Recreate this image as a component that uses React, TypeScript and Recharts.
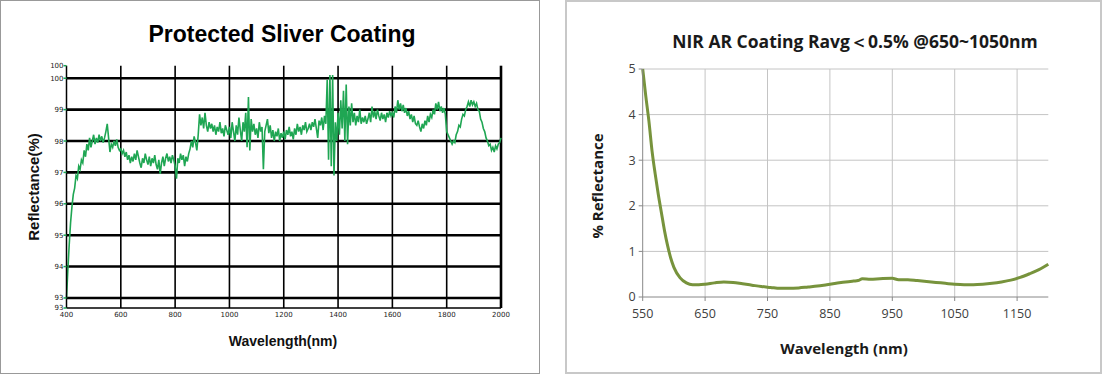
import { LineChart, Line, XAxis, YAxis, CartesianGrid } from 'recharts';

// Left chart: protected silver coating, one reading every 5 nm from 400 nm
const SILVER_START_NM = 400;
const SILVER_STEP_NM = 5;
const SILVER_REFLECTANCE = [
  93.0, 93.9, 94.7, 95.4, 95.9, 96.3, 96.5, 96.9, 96.8, 97.2, 97.1, 97.4, 97.3, 97.7, 97.5, 97.9, 97.7, 98.1, 97.8, 98.0,
  98.2, 97.9, 98.1, 97.95, 98.2, 98.0, 98.15, 97.95, 98.1, 98.3, 98.55, 98.1, 97.65, 97.9, 97.8, 98.0, 97.85, 98.05, 97.8, 97.7,
  97.75, 97.6, 97.7, 97.5, 97.65, 97.4, 97.55, 97.3, 97.5, 97.35, 97.6, 97.4, 97.7, 97.5, 97.3, 97.15, 97.45, 97.3, 97.6, 97.4,
  97.25, 97.5, 97.2, 97.45, 97.3, 97.55, 97.25, 97.1, 97.4, 96.95, 97.3, 97.5, 97.2, 97.45, 97.6, 97.35, 97.5, 97.3, 97.55, 97.4,
  97.2, 96.8, 97.45, 97.3, 97.6, 97.4, 97.55, 97.2, 97.5, 97.35, 97.6, 97.75, 98.0, 97.8, 98.15, 97.95, 97.7, 98.2, 98.85, 98.5,
  98.75, 98.4, 98.9, 98.5, 98.3, 98.6, 98.4, 98.55, 98.3, 98.5, 98.2, 98.45, 98.3, 98.6, 98.25, 98.4, 98.15, 98.5, 98.35, 98.2,
  98.45, 98.1, 98.6, 98.3, 98.0, 98.5, 98.2, 98.75, 98.35, 98.0, 98.6, 98.3, 98.9, 97.8, 99.4, 97.7, 98.7, 98.3, 98.55, 98.2,
  98.4, 98.1, 98.6, 98.3, 98.45, 97.1, 98.3, 98.5, 98.7, 98.25, 98.5, 98.1, 98.35, 98.0, 98.3, 98.15, 98.4, 98.0, 98.25, 98.1,
  98.3, 98.05, 98.35, 98.2, 98.45, 98.15, 98.3, 98.05, 98.4, 98.2, 98.55, 98.3, 98.45, 98.2, 98.5, 98.35, 98.6, 98.3, 98.4, 98.55,
  98.35, 98.6, 98.45, 98.7, 98.4, 98.1, 98.65, 98.5, 98.75, 98.35, 98.8, 98.55, 99.95, 97.4, 100.1, 97.2, 100.1, 96.9, 98.6, 98.0,
  98.9, 98.2, 99.3, 98.4, 99.6, 98.0, 99.8, 97.9, 99.1, 98.5, 99.2, 98.6, 98.9, 98.5, 98.8, 98.6, 99.0, 98.55, 98.75, 98.6,
  98.8, 98.55, 98.7, 98.9, 98.6, 99.1, 98.75, 98.95, 98.7, 99.0, 98.8, 98.65, 98.9, 98.7, 98.85, 98.6, 98.9, 98.75, 98.95, 98.8,
  98.9, 98.75, 99.1, 98.9, 99.3, 99.0, 99.2, 98.95, 99.15, 98.9, 99.05, 98.8, 98.95, 98.7, 98.85, 98.6, 98.8, 98.55, 98.5, 98.65,
  98.45, 98.3, 98.55, 98.4, 98.65, 98.5, 98.8, 98.6, 98.85, 98.75, 99.0, 98.85, 99.2, 99.0, 99.25, 98.95, 99.1, 98.9, 99.05, 98.85,
  98.3, 98.2, 98.1, 98.0, 97.9, 98.0, 97.95, 98.2, 98.3, 98.5, 98.45, 98.7, 98.85, 98.8, 99.0, 99.1, 99.25, 99.1, 99.3, 99.15,
  99.25, 99.1, 99.2, 99.0, 98.95, 98.7, 98.6, 98.4, 98.3, 98.1, 98.0, 97.85, 97.9, 97.7, 97.8, 97.65, 97.85, 97.75, 97.9, 97.95,
  98.1,
];
const SILVER_X_TICKS = [400, 600, 800, 1000, 1200, 1400, 1600, 1800, 2000];
const SILVER_Y_TICKS = [92.68, 93, 94, 95, 96, 97, 98, 99, 100, 100.4];
const SILVER_H_GRID = [93, 94, 95, 96, 97, 98, 99, 100];
const SILVER_V_GRID = [600, 800, 1000, 1200, 1400, 1600, 1800];

// Right chart: NIR AR coating
const AR_WAVELENGTH = [
  550, 555, 560, 565, 570, 575, 580, 585, 590, 595, 600, 610, 620, 630, 640, 650, 665, 680, 695, 710,
  725, 740, 755, 770, 785, 800, 815, 830, 845, 860, 875, 888, 895, 902, 915, 930, 950, 960, 975, 990,
  1005, 1020, 1035, 1050, 1065, 1080, 1095, 1110, 1125, 1140, 1155, 1170, 1185, 1200,
];
const AR_REFLECTANCE = [
  5.0, 4.4, 3.85, 3.2, 2.7, 2.25, 1.85, 1.45, 1.12, 0.85, 0.65, 0.42, 0.31, 0.27, 0.27, 0.28, 0.31, 0.33, 0.32, 0.29,
  0.26, 0.23, 0.21, 0.19, 0.19, 0.2, 0.22, 0.24, 0.27, 0.3, 0.33, 0.35, 0.36, 0.4, 0.39, 0.4, 0.41, 0.38, 0.38, 0.36,
  0.34, 0.32, 0.3, 0.28, 0.27, 0.27, 0.28, 0.3, 0.33, 0.37, 0.43, 0.51, 0.6, 0.72,
];
const AR_X_TICKS = [550, 650, 750, 850, 950, 1050, 1150];
const AR_Y_TICKS = [0, 1, 2, 3, 4, 5];
const AR_H_GRID = [1, 2, 3, 4, 5];
const AR_V_GRID = [650, 750, 850, 950, 1050, 1150];

const silverData = SILVER_REFLECTANCE.map((r, i) => ({ nm: SILVER_START_NM + i * SILVER_STEP_NM, r }));
const arData = AR_WAVELENGTH.map((nm, i) => ({ nm, r: AR_REFLECTANCE[i] }));

const abs = (left: number, top: number, extra: any = {}) => ({
  position: 'absolute' as const,
  left,
  top,
  whiteSpace: 'nowrap' as const,
  ...extra,
});

export default function App() {
  return (
    <div style={{ position: 'absolute', left: 0, top: 0, width: 1103, height: 375, background: '#fff', overflow: 'hidden' }}>
      {/* left panel */}
      <div style={abs(0, 0, { width: 540, height: 374, border: '1.5px solid #999', boxSizing: 'border-box' })} />
      <div style={abs(0, 0)}>
        <LineChart width={540} height={375} data={silverData} margin={{ top: 65.7, right: 39, bottom: 47, left: 36.5 }}>
          <CartesianGrid horizontal={false} verticalValues={SILVER_V_GRID} stroke="#000" strokeWidth={1.6} />
          <CartesianGrid horizontal={false} verticalValues={[2000]} stroke="#000" strokeWidth={2.6} />
          <CartesianGrid vertical={false} horizontalValues={SILVER_H_GRID} stroke="#000" strokeWidth={2.6} />
          <XAxis
            dataKey="nm"
            type="number"
            domain={[400, 2000]}
            ticks={SILVER_X_TICKS}
            interval={0}
            height={20}
            tickLine={false}
            tickMargin={-2}
            axisLine={{ stroke: '#000', strokeWidth: 1.5 }}
            tick={{ fontSize: 7, fill: '#222', fontFamily: 'DejaVu Sans' }}
          />
          <YAxis
            type="number"
            domain={[92.68, 100.4]}
            ticks={SILVER_Y_TICKS}
            interval={0}
            width={30}
            tickSize={3}
            tickMargin={0}
            tickLine={{ stroke: '#1fa653', strokeWidth: 1.5 }}
            tickFormatter={(v: number) => String(Math.round(v))}
            axisLine={{ stroke: '#000', strokeWidth: 1.5 }}
            tick={{ fontSize: 7, fill: '#222', fontFamily: 'DejaVu Sans' }}
          />
          <Line dataKey="r" type="linear" stroke="#1fa653" strokeWidth={1.6} dot={false} isAnimationActive={false} />
        </LineChart>
      </div>
      <div style={abs(282, 34, { transform: 'translate(-50%,-50%)', font: 'bold 23px "Liberation Sans"', color: '#000' })}>
        Protected Sliver Coating
      </div>
      <div style={abs(33, 187, { transform: 'translate(-50%,-50%) rotate(-90deg)', font: 'bold 15px "Liberation Sans"', color: '#111' })}>
        Reflectance(%)
      </div>
      <div style={abs(283, 341, { transform: 'translate(-50%,-50%)', font: 'bold 14px "Liberation Sans"', color: '#111' })}>
        Wavelength(nm)
      </div>

      {/* right panel */}
      <div style={abs(565, 0, { width: 537, height: 374, border: '2px solid #c8c8c8', boxSizing: 'border-box' })} />
      <div style={abs(560, 0)}>
        <LineChart width={543} height={375} data={arData} margin={{ top: 69, right: 54.7, bottom: 48, left: 52.7 }}>
          <CartesianGrid horizontalValues={AR_H_GRID} verticalValues={AR_V_GRID} stroke="#c4c4c4" strokeWidth={1} />
          <XAxis
            dataKey="nm"
            type="number"
            domain={[550, 1200]}
            ticks={AR_X_TICKS}
            interval={0}
            height={30}
            tickSize={4}
            tickMargin={8}
            tickLine={{ stroke: '#888' }}
            axisLine={{ stroke: '#888' }}
            tick={{ fontSize: 12.5, fill: '#404040', fontFamily: 'Open Sans' }}
          />
          <YAxis
            type="number"
            domain={[0, 5]}
            ticks={AR_Y_TICKS}
            interval={0}
            width={30}
            tickSize={4}
            tickMargin={3}
            tickLine={{ stroke: '#888' }}
            axisLine={{ stroke: '#888' }}
            tick={{ fontSize: 12.5, fill: '#404040', fontFamily: 'Open Sans' }}
          />
          <Line dataKey="r" type="monotone" stroke="#77933c" strokeWidth={3} dot={false} isAnimationActive={false} />
        </LineChart>
      </div>
      <div style={abs(855, 41, { transform: 'translate(-50%,-50%)', font: 'bold 17.5px "Open Sans"', color: '#1a1a1a' })}>
        NIR AR Coating Ravg＜0.5% @650~1050nm
      </div>
      <div style={abs(597, 186, { transform: 'translate(-50%,-50%) rotate(-90deg)', font: 'bold 15px "Open Sans"', color: '#1a1a1a' })}>
        % Reflectance
      </div>
      <div style={abs(844, 348, { transform: 'translate(-50%,-50%)', font: 'bold 15px "Open Sans"', color: '#1a1a1a' })}>
        Wavelength (nm)
      </div>
    </div>
  );
}
